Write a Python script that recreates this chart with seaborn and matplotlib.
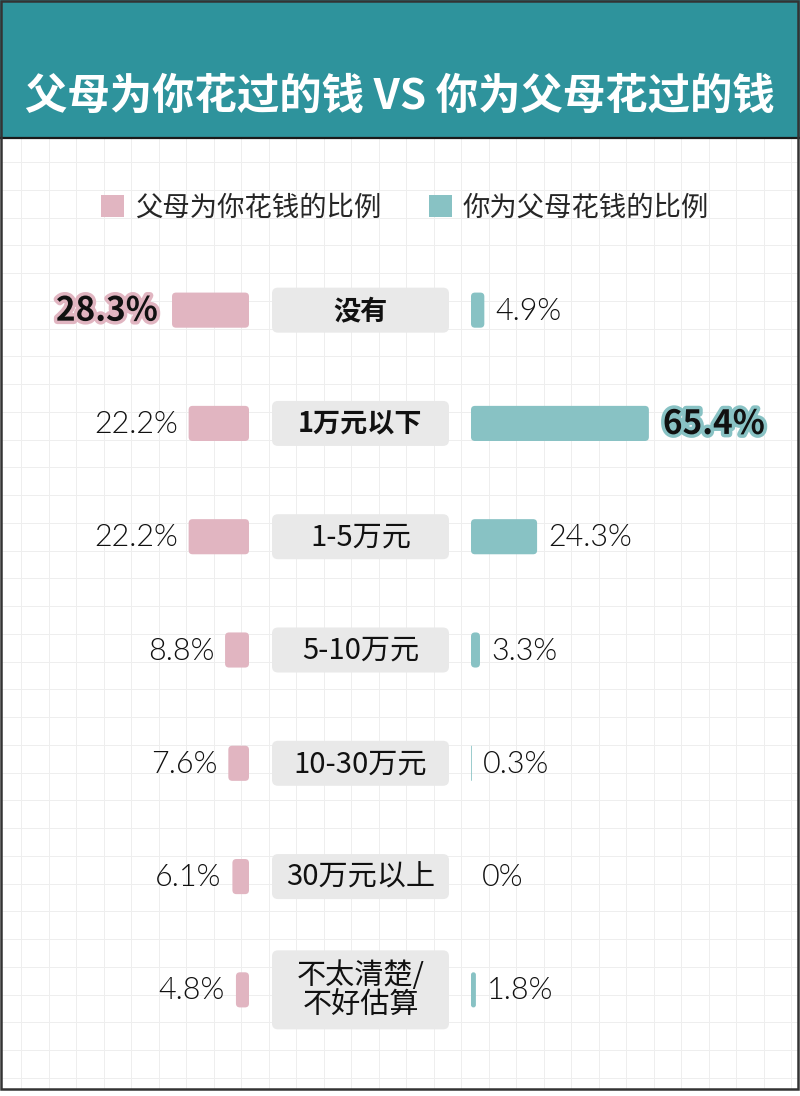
import seaborn as sns
import matplotlib.pyplot as plt
import matplotlib.patheffects as pe
from matplotlib import font_manager as fm
from matplotlib.patches import FancyBboxPatch, Rectangle, Patch
import numpy as np

# data
categories = ['没有', '1万元以下', '1-5万元', '5-10万元', '10-30万元', '30万元以上', '不太清楚/\n不好估算']
parents_pct = [28.3, 22.2, 22.2, 8.8, 7.6, 6.1, 4.8]
children_pct = [4.9, 65.4, 24.3, 3.3, 0.3, 0, 1.8]
series_names = ['父母为你花钱的比例', '你为父母花钱的比例']
title = '父母为你花过的钱 VS 你为父母花过的钱'
bold_cats = ['没有', '1万元以下']

PINK = '#E1B5C1'
TEAL = '#88C2C4'
HEADER = '#2E939C'
BOX = '#E9E9E9'
GRID = '#EEEEEE'

W, H = 800, 1096
PX_PER_PCT = 2.72
ROW_TOP, ROW_BOT = 253.5, 1046.5

sns.set_theme(style='white')
plt.rcParams['font.family'] = ['Noto Sans CJK SC', 'DejaVu Sans']


def light_font():
    # a real light (300) face for the numbers, else the default family
    for fam in ['Lato', 'Roboto', 'Open Sans', 'Noto Sans', 'Inter']:
        for f in fm.fontManager.ttflist:
            if f.name == fam and f.style == 'normal' and f.weight in (300, 'light'):
                return fm.FontProperties(fname=f.fname)
    return fm.FontProperties(family='Noto Sans CJK SC')


num_prop = light_font()

fig = plt.figure(figsize=(W / 100, H / 100), dpi=100)
fig.patch.set_facecolor('white')

# background axis in pixel coords
bg = fig.add_axes([0, 0, 1, 1])
bg.set_xlim(0, W)
bg.set_ylim(H, 0)
bg.axis('off')

for x in np.arange(21, W, 27.5):
    bg.plot([x, x], [138, 1089], color=GRID, lw=0.7, zorder=0)
for y in np.arange(162, 1089, 27.75):
    bg.plot([2, 798], [y, y], color=GRID, lw=0.7, zorder=0)

bg.add_patch(Rectangle((0, 0), W, 137, color=HEADER, zorder=1))
bg.plot([0, W], [137.5, 137.5], color='#1a1a1a', lw=1.6, zorder=2)
bg.add_patch(Rectangle((1.2, 1.2), 797, 1088, fill=False, ec='#333333', lw=1.8, zorder=3))
bg.text(400, 97, title, color='white', fontsize=30.5, fontweight='bold',
        ha='center', va='center', zorder=4)


def bar_axes(x0, x1):
    ax = fig.add_axes([x0 / W, 1 - ROW_BOT / H, (x1 - x0) / W, (ROW_BOT - ROW_TOP) / H])
    ax.patch.set_alpha(0)
    return ax


axL = bar_axes(0, 249)
axR = bar_axes(471, 800)

sns.barplot(x=parents_pct, y=categories, orient='h', color=PINK, width=0.31,
            saturation=1, ax=axL)
sns.barplot(x=children_pct, y=categories, orient='h', color=TEAL, width=0.31,
            saturation=1, ax=axR)
for ax in (axL, axR):
    ax.set_ylim(len(categories) - 0.5, -0.5)
    ax.axis('off')
axL.set_xlim(249 / PX_PER_PCT, 0)
axR.set_xlim(0, 329 / PX_PER_PCT)


def to_bg(ax, x, y):
    d = ax.transData.transform((x, y))
    return bg.transData.inverted().transform(d)


# swap the square bars for rounded ones at the same spot
for ax, color in ((axL, PINK), (axR, TEAL)):
    for p in list(ax.patches):
        x0, y0 = p.get_x(), p.get_y()
        a = to_bg(ax, x0, y0)
        b = to_bg(ax, x0 + p.get_width(), y0 + p.get_height())
        left, right = min(a[0], b[0]), max(a[0], b[0])
        top, bot = min(a[1], b[1]), max(a[1], b[1])
        w, h = right - left, bot - top
        p.set_visible(False)
        if w <= 0:
            continue
        r = min(4, w / 2, h / 2)
        ax.add_patch(FancyBboxPatch((left, top), w, h,
                                    boxstyle=f'round,pad=0,rounding_size={r}',
                                    fc=color, ec='none', transform=bg.transData,
                                    clip_on=False))

# value labels
for ax, vals, color, sign in ((axL, parents_pct, PINK, -1), (axR, children_pct, TEAL, 1)):
    top = int(np.argmax(vals))
    for i, v in enumerate(vals):
        txt = f'{v:g}%'
        ha = 'right' if sign < 0 else 'left'
        if i == top:
            t = ax.annotate(txt, xy=(v, i), xytext=(sign * 14, -1), textcoords='offset pixels',
                            ha=ha, va='center', fontsize=24, fontweight='bold',
                            color='#111111', annotation_clip=False)
            t.set_path_effects([pe.withStroke(linewidth=5, foreground=color)])
        else:
            ax.annotate(txt, xy=(v, i), xytext=(sign * 11, -1), textcoords='offset pixels',
                        ha=ha, va='center', fontproperties=num_prop, fontsize=22,
                        color='#111111', annotation_clip=False)

# category boxes in the middle
for i, cat in enumerate(categories):
    cy = to_bg(axL, 0, i)[1]
    nlines = cat.count('\n') + 1
    bh = 45 if nlines == 1 else 79
    bg.add_patch(FancyBboxPatch((272, cy - bh / 2), 177, bh,
                                boxstyle='round,pad=0,rounding_size=6',
                                fc=BOX, ec='none', zorder=2))
    is_bold = cat in bold_cats
    bg.text(360.5, cy + 1, cat, ha='center', va='center',
            fontsize=19.5 if is_bold else 21,
            fontweight='bold' if is_bold else 'normal',
            linespacing=1.0, color='#111111', zorder=3)

handles = [Patch(fc=PINK, ec='none'), Patch(fc=TEAL, ec='none')]
fig.legend(handles, series_names, loc='center', bbox_to_anchor=(405 / W, 1 - 208 / H),
           ncol=2, frameon=False, handlelength=0.85, handleheight=0.85,
           handletextpad=0.4, columnspacing=1.74, prop={'weight': 'light', 'size': 19.7})

fig.savefig('out.png', dpi=100)
